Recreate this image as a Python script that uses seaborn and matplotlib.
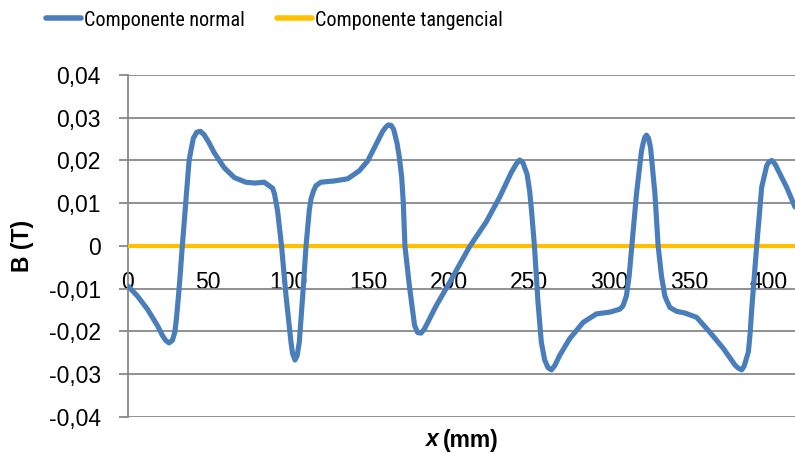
import matplotlib
matplotlib.use("Agg")
import matplotlib.pyplot as plt
import seaborn as sns
import pandas as pd

# Position along the path (mm) and measured flux density components (T)
x_mm = [0, 5.8, 12.1, 18.3, 21.4, 23.5, 25.6, 27.7, 29.2, 30.2, 31.5, 32.5, 33.9,
        36.0, 38.1, 39.2, 40.8, 42.9, 45.2, 47.5, 50.6, 53.8, 60.0, 66.3, 73.5,
        79.0, 85.0, 90.2, 91.4, 93.3, 95.8, 98.6, 101.7, 102.7, 104.2, 105.6,
        106.9, 109.0, 111.1, 113.1, 114.2, 115.8, 117.3, 120.4, 128.8, 137.1,
        144.4, 149.6, 155.8, 158.9, 161.1, 162.5, 164.2, 165.8, 167.9, 169.4,
        170.8, 171.8, 172.8, 175.6, 178.8, 180.8, 182.9, 185.0, 186.1, 192.3,
        200.6, 213.1, 223.5, 231.9, 239.2, 242.3, 244.4, 246.4, 249.0, 250.6,
        251.8, 253.6, 255.8, 257.9, 260.0, 262.1, 264.2, 266.3, 269.4, 275.6,
        284.0, 292.3, 300.6, 306.9, 308.9, 311.0, 312.7, 314.2, 317.3, 320.4,
        321.5, 322.5, 323.5, 324.8, 326.1, 328.8, 330.8, 332.9, 335.0, 336.4,
        338.1, 342.3, 347.5, 354.8, 363.1, 371.5, 378.8, 380.8, 382.9, 384.4,
        387.1, 388.1, 389.2, 392.3, 395.4, 398.5, 399.6, 401.7, 403.8, 405.8,
        411.0, 416.2]

b_normal = [-0.0094, -0.0117, -0.0148, -0.0186, -0.0209, -0.0221, -0.0227, -0.0221,
            -0.0202, -0.0171, -0.0117, -0.0071, 0.0, 0.0099, 0.0199, 0.0222, 0.0252,
            0.0266, 0.0268, 0.0260, 0.0241, 0.0218, 0.0183, 0.0160, 0.0149, 0.0147,
            0.0149, 0.0135, 0.0122, 0.0083, 0.0, -0.0117, -0.0225, -0.0252, -0.0267,
            -0.0256, -0.0225, -0.0117, 0.0, 0.0083, 0.0110, 0.0129, 0.0141, 0.0149,
            0.0152, 0.0157, 0.0176, 0.0199, 0.0245, 0.0268, 0.0279, 0.0283, 0.0282,
            0.0272, 0.0240, 0.0205, 0.0160, 0.0100, 0.0, -0.0094, -0.0186, -0.0203,
            -0.0204, -0.0194, -0.0186, -0.0140, -0.0086, -0.0002, 0.0056, 0.0114,
            0.0172, 0.0192, 0.0201, 0.0195, 0.0168, 0.0129, 0.0083, 0.0, -0.0130,
            -0.0225, -0.0267, -0.0285, -0.0290, -0.0280, -0.0256, -0.0217, -0.0179,
            -0.0159, -0.0155, -0.0148, -0.0140, -0.0117, -0.0071, -0.0009, 0.0122,
            0.0222, 0.0241, 0.0254, 0.0259, 0.0252, 0.0229, 0.0122, 0.0, -0.0071,
            -0.0117, -0.0130, -0.0144, -0.0153, -0.0157, -0.0167, -0.0202, -0.0240,
            -0.0279, -0.0286, -0.0290, -0.0282, -0.0248, -0.0209, -0.0148, 0.0,
            0.0137, 0.0187, 0.0195, 0.0200, 0.0191, 0.0176, 0.0137, 0.0091]

b_tangential = [0.0] * len(x_mm)

series_names = ["Componente normal", "Componente tangencial"]
series_colors = ["#4A7EBB", "#FFC000"]

y_ticks = [-0.04, -0.03, -0.02, -0.01, 0.0, 0.01, 0.02, 0.03, 0.04]
y_tick_labels = ["-0,04", "-0,03", "-0,02", "-0,01", "0", "0,01", "0,02", "0,03", "0,04"]
x_ticks = [0, 50, 100, 150, 200, 250, 300, 350, 400]
x_tick_labels = ["0", "50", "100", "150", "200", "250", "300", "350", "400"]

df = pd.DataFrame({
    "x": x_mm * 2,
    "B": b_normal + b_tangential,
    "serie": [series_names[0]] * len(x_mm) + [series_names[1]] * len(x_mm),
})

sns.set_theme(style="white")
plt.rcParams["font.family"] = ["Liberation Sans", "DejaVu Sans"]

W, H = 795, 454
fig = plt.figure(figsize=(W / 100, H / 100), dpi=100)
ax = fig.add_axes([128 / W, 1 - 417.3 / H, (W - 128) / W, (417.3 - 74.5) / H])

grid_col = "#888888"

sns.lineplot(data=df[df.serie == series_names[1]], x="x", y="B", ax=ax,
             color=series_colors[1], lw=3.0, sort=False, estimator=None,
             label=series_names[1], zorder=3)
sns.lineplot(data=df[df.serie == series_names[0]], x="x", y="B", ax=ax,
             color=series_colors[0], lw=3.7, sort=False, estimator=None,
             label=series_names[0], zorder=4, solid_capstyle="round",
             solid_joinstyle="round")

ax.set_xlim(0, 416.2)
ax.set_ylim(-0.0401, 0.0401)

ax.set_yticks(y_ticks)
ax.set_yticklabels(y_tick_labels)
ax.set_xticks(x_ticks)
ax.set_xticklabels(x_tick_labels)

ax.yaxis.grid(True, color=grid_col, lw=1.3)
ax.xaxis.grid(False)

for side in ["top", "right"]:
    ax.spines[side].set_visible(False)
ax.spines["left"].set_color(grid_col)
ax.spines["left"].set_linewidth(1.3)
ax.spines["bottom"].set_position(("data", 0))
ax.spines["bottom"].set_color(grid_col)
ax.spines["bottom"].set_linewidth(1.3)

ax.tick_params(axis="y", direction="out", length=6.5, width=1.3, color=grid_col,
               pad=13, labelsize=16.5, labelcolor="black", left=True)
ax.tick_params(axis="x", length=0, pad=18, labelsize=16.5, labelcolor="black")

ax.set_xlabel("")
ax.set_ylabel("B (T)", fontsize=16.5, fontweight="bold", color="black")
ax.yaxis.set_label_coords((23 - 128) / (W - 128), 0.5)
ax.yaxis.label.set_va("center")

# Axis title: italic bold "x" followed by bold "(mm)"
fig.text(439 / W, 1 - 440 / H, "x", fontsize=16.5, fontweight="bold",
         fontstyle="italic", ha="right", va="center", color="black")
fig.text(443 / W, 1 - 440 / H, "(mm)", fontsize=16.5, fontweight="bold",
         ha="left", va="center", color="black")

handles, labels = ax.get_legend_handles_labels()
order = [labels.index(n) for n in series_names]
ax.get_legend().remove()
leg = fig.legend([handles[i] for i in order], [labels[i] for i in order],
                 loc="center", bbox_to_anchor=(274.5 / W, 1 - 20 / H), ncol=2,
                 frameon=False, handlelength=1.75, handletextpad=0.15,
                 columnspacing=1.6, borderpad=0,
                 prop={"family": ["Roboto Condensed", "Liberation Sans Narrow",
                                  "DejaVu Sans Condensed", "Liberation Sans"],
                       "size": 14.5})
for t in leg.get_texts():
    t.set_color("black")
for h in leg.legend_handles:
    h.set_linewidth(4.0)

fig.savefig("out.png", dpi=100)
